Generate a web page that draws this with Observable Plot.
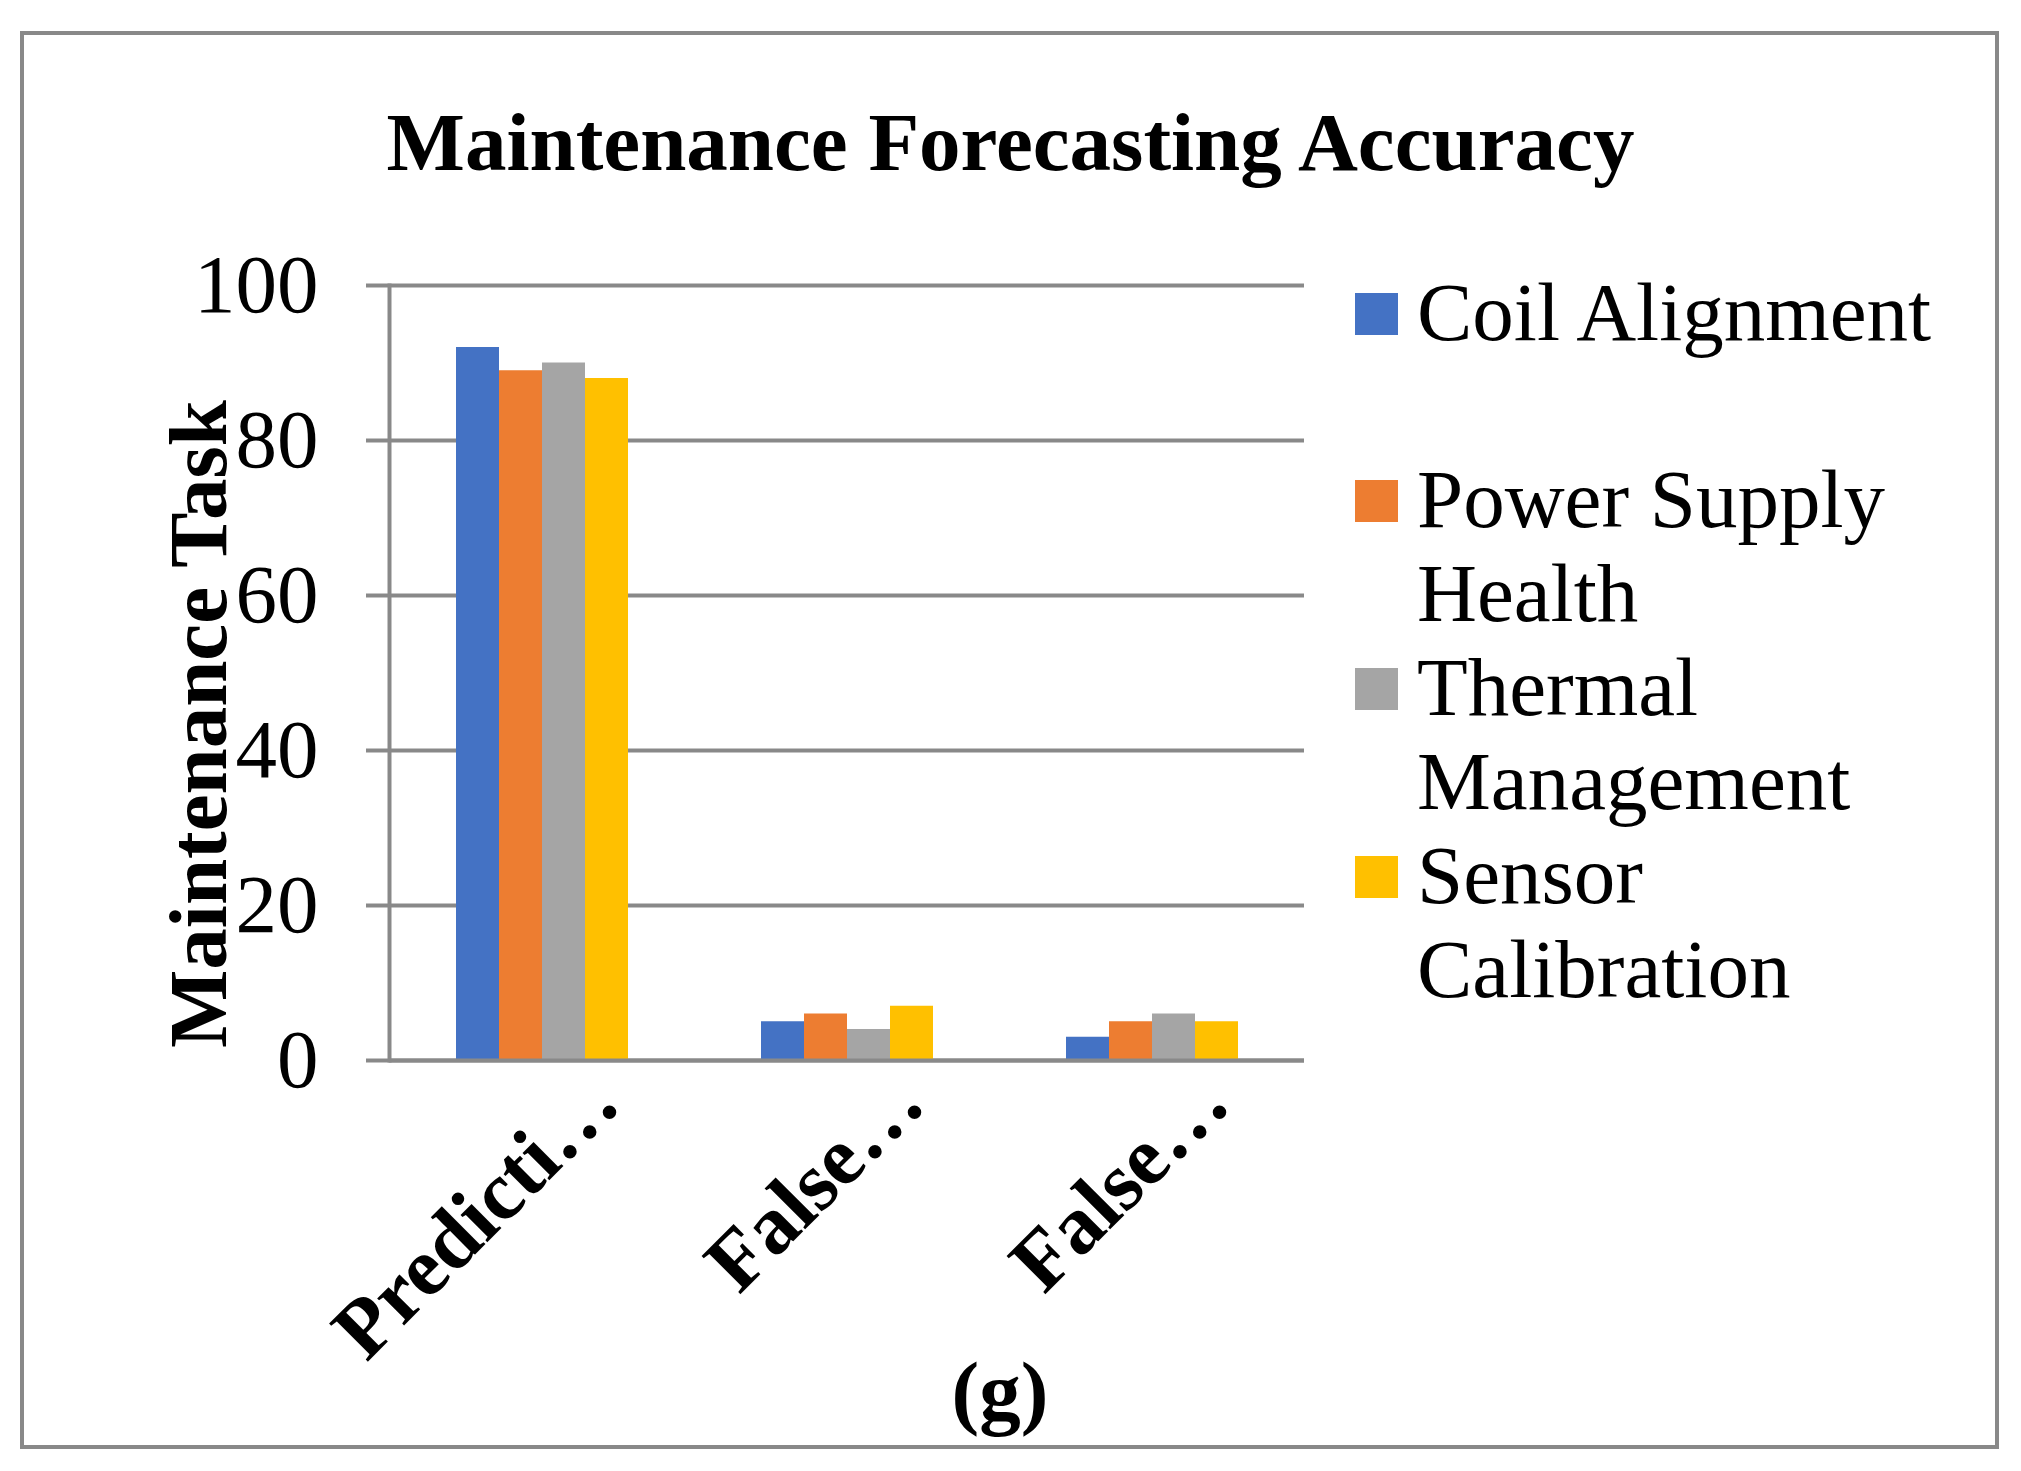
<!DOCTYPE html>
<html>
<head>
<meta charset="utf-8">
<script src="https://cdn.jsdelivr.net/npm/d3@7"></script>
<script src="https://cdn.jsdelivr.net/npm/@observablehq/plot@0.6"></script>
<style>
  html, body { margin: 0; padding: 0; background: #fff; }
  #root { position: relative; width: 2021px; height: 1471px; overflow: hidden; background: #fff;
          font-family: "Liberation Serif", "Times New Roman", serif; color: #000; }
  .abs { position: absolute; white-space: nowrap; }
  #frame { position: absolute; left: 20px; top: 31px; width: 1979px; height: 1418px;
           box-sizing: border-box; border: 4px solid #898989; }
  #title { left: 0; width: 2021px; top: 101px; text-align: center; font-size: 83px;
           line-height: 83px; font-weight: bold; }
  #ylabel { font-size: 83px; line-height: 83px; font-weight: bold;
            transform: translate(-50%, -50%) rotate(-90deg); }
  #caption { left: 0; width: 2000px; top: 1350px; text-align: center; font-size: 83px;
             line-height: 83px; font-weight: bold; }
  #legend { position: absolute; left: 1355px; top: 265px; width: 620px; }
  .entry { position: relative; min-height: 187px; padding-left: 62px; font-size: 83px;
           line-height: 94px; white-space: normal; width: 545px; }
  .swatch { position: absolute; left: 0; top: 28px; width: 43px; height: 42px; }
  #chart { position: absolute; left: 0; top: 240px; }
</style>
</head>
<body>
<div id="root">
  <div id="frame"></div>
  <div id="title" class="abs"></div>
  <div id="ylabel" class="abs"></div>
  <div id="chart"></div>
  <div id="legend"></div>
  <div id="caption" class="abs"></div>
</div>
<script>
// ---- data ----
const titleText = "Maintenance Forecasting Accuracy";
const yLabelText = "Maintenance Task";
const captionText = "(g)";
const categories = ["Prediction Accuracy", "False Positives", "False Negatives"];
const tickLabels = ["Predicti…", "False…", "False…"];
const series = ["Coil Alignment", "Power Supply Health", "Thermal Management", "Sensor Calibration"];
const coilAlignment = [92, 5, 3];
const powerSupplyHealth = [89, 6, 5];
const thermalManagement = [90, 4, 6];
const sensorCalibration = [88, 7, 5];
const colors = ["#4472C4", "#ED7D31", "#A5A5A5", "#FFC000"];
const yTicks = [0, 20, 40, 60, 80, 100];

// ---- build table ----
const seriesValues = [coilAlignment, powerSupplyHealth, thermalManagement, sensorCalibration];
const rows = [];
categories.forEach((c, ci) => {
  series.forEach((s, si) => rows.push({category: c, series: s, value: seriesValues[si][ci]}));
});

const gridColor = "#898989";
const W = 1330, H = 1150;

const chart = Plot.plot({
  width: W,
  height: H,
  marginTop: 45,
  marginBottom: 330,
  marginLeft: 389,
  marginRight: 26,
  style: {fontFamily: "Liberation Serif, Times New Roman, serif", fontSize: "83px", color: "#000", background: "transparent", overflow: "visible"},
  fx: {domain: categories, padding: 0, label: null},
  x: {domain: series, paddingInner: 0, paddingOuter: 1.5, axis: null},
  y: {domain: [0, 100], label: null},
  color: {domain: series, range: colors},
  marks: [
    Plot.gridY(yTicks, {stroke: gridColor, strokeOpacity: 1, strokeWidth: 4}),
    Plot.axisY(yTicks, {tickSize: 23, tickPadding: 48, stroke: gridColor, strokeWidth: 4, fill: "#000", fontSize: 83, label: null}),
    Plot.barY(rows, {fx: "category", x: "series", y: "value", fill: "series"}),
    Plot.ruleY([0], {stroke: gridColor, strokeWidth: 4}),
    Plot.frame({anchor: "left", facetAnchor: "left", stroke: gridColor, strokeWidth: 4}),
    Plot.axisFx({anchor: "bottom", tickRotate: -45, tickSize: 0, tickPadding: 0, fontSize: 83, fontWeight: "bold",
                 tickFormat: d => tickLabels[categories.indexOf(d)], textAnchor: "end", lineAnchor: "bottom",
                 dx: 81, dy: 46, label: null, fill: "#000"})
  ]
});
document.getElementById("chart").appendChild(chart);

// ---- texts ----
document.getElementById("title").textContent = titleText;
const yl = document.getElementById("ylabel");
yl.textContent = yLabelText;
yl.style.left = "198px";
yl.style.top = "724px";
document.getElementById("caption").textContent = captionText;

// ---- legend ----
const legend = document.getElementById("legend");
series.forEach((s, i) => {
  const e = document.createElement("div");
  e.className = "entry";
  const sw = document.createElement("div");
  sw.className = "swatch";
  sw.style.background = colors[i];
  e.appendChild(sw);
  e.appendChild(document.createTextNode(s));
  legend.appendChild(e);
});
</script>
</body>
</html>
